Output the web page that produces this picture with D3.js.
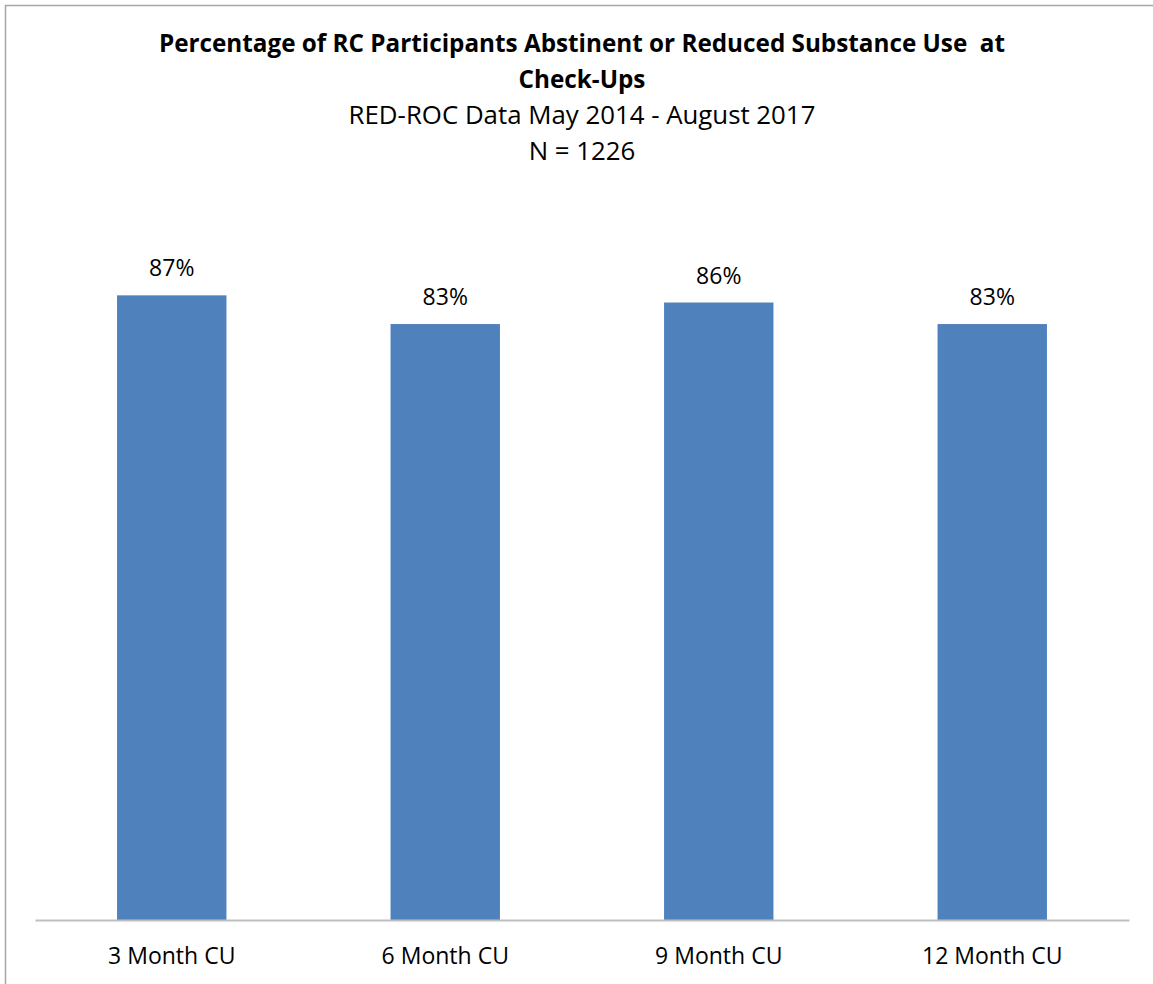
<!DOCTYPE html>
<html>
<head>
<meta charset="utf-8">
<script src="https://cdn.jsdelivr.net/npm/d3@7"></script>
<style>
  body { margin: 0; background: #fff; }
  svg { display: block; font-family: "Open Sans", sans-serif; }
</style>
</head>
<body>
<div id="wrapper"></div>
<script>
const categories = ["3 Month CU", "6 Month CU", "9 Month CU", "12 Month CU"];
const values = [87, 83, 86, 83];
const titleLines = ["Percentage of RC Participants Abstinent or Reduced Substance Use  at", "Check-Ups"];
const subtitleLines = ["RED-ROC Data May 2014 - August 2017", "N = 1226"];

const dimension = {
    width: 1153,
    height: 984,
    margin: { top: 202, left: 35, right: 24, bottom: 64 }
};
dimension.boundedWidth = dimension.width - dimension.margin.left - dimension.margin.right;
dimension.boundedHeight = dimension.height - dimension.margin.top - dimension.margin.bottom;

const svg = d3.select("#wrapper").append("svg")
    .attr("width", dimension.width)
    .attr("height", dimension.height);

// chart border (right and bottom sides run off the picture)
svg.append("rect")
    .attr("x", 5.5).attr("y", 5.5)
    .attr("width", dimension.width + 20).attr("height", dimension.height + 20)
    .attr("fill", "none")
    .attr("stroke", "#a6a6a6")
    .attr("stroke-width", 1.5);

const bounded = svg.append("g")
    .attr("transform", `translate(${dimension.margin.left},${dimension.margin.top})`);

const xScaler = d3.scaleBand()
    .domain(categories)
    .range([0, dimension.boundedWidth]);

const yScaler = d3.scaleLinear()
    .domain([0, 100])
    .range([dimension.boundedHeight, 0]);

const barWidth = xScaler.bandwidth() * 0.4;

bounded.selectAll("rect.bar")
    .data(values)
    .join("rect")
    .attr("class", "bar")
    .attr("x", (d, i) => xScaler(categories[i]) + (xScaler.bandwidth() - barWidth) / 2)
    .attr("y", d => yScaler(d))
    .attr("width", barWidth)
    .attr("height", d => dimension.boundedHeight - yScaler(d))
    .attr("fill", "#4F81BD");

bounded.selectAll("text.value")
    .data(values)
    .join("text")
    .attr("class", "value")
    .attr("x", (d, i) => xScaler(categories[i]) + xScaler.bandwidth() / 2)
    .attr("y", d => yScaler(d) - 19)
    .attr("text-anchor", "middle")
    .attr("font-size", 23)
    .attr("fill", "#000")
    .text(d => d + "%");

// x axis: baseline only, no ticks
const xAxis = d3.axisBottom(xScaler).tickSize(0).tickPadding(28);
const xAxisGroup = bounded.append("g")
    .attr("transform", `translate(0,${dimension.boundedHeight})`)
    .call(xAxis);
xAxisGroup.select(".domain").attr("stroke", "#bfbfbf").attr("stroke-width", 2);
xAxisGroup.selectAll(".tick text")
    .attr("font-family", "Open Sans, sans-serif")
    .attr("font-size", 23)
    .attr("fill", "#000");

// titles, sized to match the widths in the reference
function fitText(sel, target) {
    const w = sel.node().getComputedTextLength();
    const fs = parseFloat(sel.attr("font-size"));
    sel.attr("font-size", fs * target / w);
}

const cx = dimension.margin.left + dimension.boundedWidth / 2;

const t1 = svg.append("text")
    .attr("x", cx).attr("y", 52)
    .attr("text-anchor", "middle")
    .attr("font-weight", "bold")
    .attr("font-size", 22)
    .style("white-space", "pre")
    .text(titleLines[0]);
fitText(t1, 847);
const titleSize = t1.attr("font-size");

svg.append("text")
    .attr("x", cx).attr("y", 88)
    .attr("text-anchor", "middle")
    .attr("font-weight", "bold")
    .attr("font-size", titleSize)
    .text(titleLines[1]);

const s1 = svg.append("text")
    .attr("x", cx).attr("y", 124)
    .attr("text-anchor", "middle")
    .attr("font-size", 22)
    .text(subtitleLines[0]);
fitText(s1, 467);

svg.append("text")
    .attr("x", cx).attr("y", 160)
    .attr("text-anchor", "middle")
    .attr("font-size", s1.attr("font-size"))
    .text(subtitleLines[1]);
</script>
</body>
</html>
